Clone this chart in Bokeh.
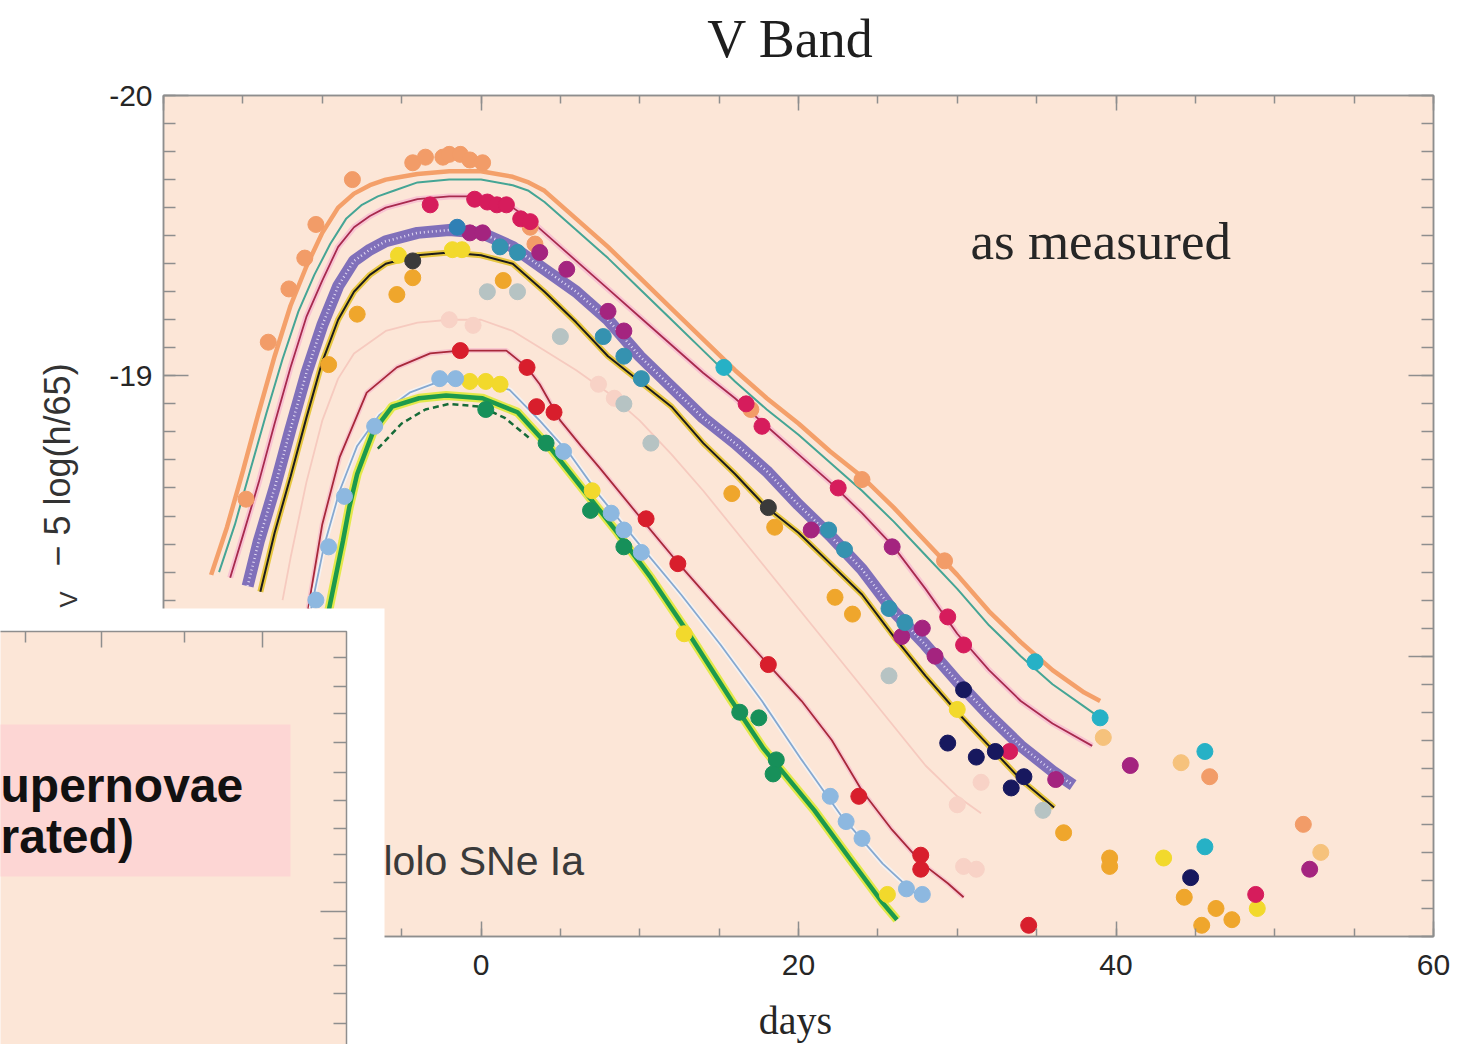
from bokeh.plotting import figure
from bokeh.models import (Range1d, LinearAxis, SingleIntervalTicker, Label, BoxAnnotation,
                          PrintfTickFormatter)
from bokeh.embed import file_html
from bokeh.resources import INLINE

# ---------------- fitted light curves: days from maximum, M_V - 5 log(h/65) ----------------
orange_days = [-17, -16, -15, -14, -13, -12, -11, -10, -9, -8, -7, -6, -5, -4, -2, 0, 2, 3, 4, 5, 6, 8,
               10, 12, 14, 16, 18, 20, 22, 24, 26, 28, 30, 32, 34, 36, 38, 39]
orange_mag = [-18.29, -18.46, -18.66, -18.87, -19.07, -19.25, -19.39, -19.51, -19.60, -19.65, -19.68,
              -19.70, -19.71, -19.72, -19.73, -19.73, -19.71, -19.69, -19.66, -19.61, -19.56, -19.46,
              -19.35, -19.24, -19.13, -19.02, -18.92, -18.83, -18.73, -18.64, -18.53, -18.41, -18.29,
              -18.16, -18.05, -17.95, -17.87, -17.84]

teal_days = [-16.5, -15.5, -14.5, -13.5, -12.5, -11.5, -10.5, -9.5, -8.5, -7.5, -6.5, -5.5, -4, -2, 0,
             2, 3, 4, 5, 6, 8, 10, 12, 14, 16, 18, 20, 22, 24, 26, 28, 30, 32, 34, 36, 38, 39]
teal_mag = [-18.30, -18.47, -18.67, -18.87, -19.06, -19.23, -19.36, -19.47, -19.56, -19.61, -19.64,
            -19.66, -19.69, -19.70, -19.70, -19.68, -19.66, -19.62, -19.57, -19.52, -19.42, -19.31,
            -19.20, -19.09, -18.98, -18.88, -18.79, -18.69, -18.59, -18.48, -18.36, -18.24, -18.11,
            -18.00, -17.90, -17.82, -17.78]

crimson_days = [-15.8, -15, -14, -13, -12, -11, -10, -9, -8, -7, -6, -4, -2, 0, 2, 3, 4, 5, 6, 8, 10,
                12, 14, 16, 18, 20, 22, 24, 26, 28, 30, 32, 34, 36, 38.5]
crimson_mag = [-18.28, -18.43, -18.62, -18.83, -19.03, -19.21, -19.34, -19.46, -19.53, -19.57, -19.60,
               -19.63, -19.64, -19.64, -19.60, -19.56, -19.51, -19.46, -19.41, -19.31, -19.21, -19.11,
               -19.01, -18.92, -18.82, -18.72, -18.62, -18.51, -18.39, -18.24, -18.08, -17.95, -17.84,
               -17.76, -17.68]

band_days = [-14.7, -14, -13, -12, -11, -10, -9, -8, -7, -6, -4, -2, 0, 2, 4, 6, 8, 10, 12, 14, 16, 18,
             20, 22, 24, 26, 28, 30, 32, 34, 36, 37.3]
band_mag = [-18.25, -18.41, -18.60, -18.81, -19.01, -19.18, -19.32, -19.41, -19.45, -19.48, -19.51,
            -19.52, -19.51, -19.46, -19.38, -19.30, -19.20, -19.07, -18.96, -18.85, -18.76, -18.66,
            -18.54, -18.43, -18.31, -18.16, -18.04, -17.91, -17.79, -17.68, -17.59, -17.54]

black_days = [-13.9, -13, -12, -11, -10, -9, -8, -7, -6, -4, -2, 0, 2, 4, 6, 8, 10, 12, 14, 16, 18, 20,
              22, 24, 26, 28, 30, 32, 34, 36.1]
black_mag = [-18.23, -18.44, -18.64, -18.85, -19.05, -19.20, -19.30, -19.36, -19.40, -19.43, -19.44,
             -19.43, -19.40, -19.30, -19.19, -19.07, -18.98, -18.89, -18.76, -18.65, -18.53, -18.44,
             -18.33, -18.22, -18.07, -17.93, -17.80, -17.68, -17.56, -17.46]

pale_days = [-12.5, -12, -11, -10, -9, -8, -6, -4, -2, 0, 2, 4, 6, 8, 10, 12, 14, 16, 18, 20, 22, 24,
             26, 28, 30, 31.5]
pale_mag = [-18.20, -18.35, -18.62, -18.84, -18.99, -19.08, -19.16, -19.19, -19.20, -19.20, -19.16,
            -19.09, -19.02, -18.94, -18.84, -18.72, -18.59, -18.45, -18.31, -18.17, -18.03, -17.89,
            -17.75, -17.61, -17.50, -17.44]

red_days = [-11.2, -10.8, -10.0, -8.9, -7.2, -5.3, -3.2, -1.3, 0.6, 1.6, 2.9, 3.7, 5.0, 6.3, 7.5, 10.1,
            12.6, 15.1, 18.1, 20.2, 22.1, 24.0, 25.9, 27.8, 29.4, 30.4]
red_mag = [-18.05, -18.20, -18.47, -18.71, -18.94, -19.03, -19.08, -19.09, -19.09, -19.09, -19.03,
           -18.97, -18.84, -18.75, -18.67, -18.49, -18.32, -18.16, -17.97, -17.84, -17.70, -17.52,
           -17.38, -17.26, -17.19, -17.14]

lblue_days = [-10.7, -9.9, -8.9, -7.8, -6.4, -4.5, -2.6, -0.1, 1.8, 3.7, 5.6, 7.5, 10.1, 12.6, 15.1,
              17.7, 20.2, 22.7, 25.3, 27.2, 28.1]
lblue_mag = [-18.17, -18.39, -18.59, -18.75, -18.86, -18.94, -18.98, -18.98, -18.95, -18.84, -18.72,
             -18.57, -18.39, -18.22, -18.04, -17.84, -17.63, -17.43, -17.26, -17.16, -17.13]

green_days = [-10.0, -9.6, -8.7, -8.3, -7.8, -6.8, -5.6, -3.9, -2.2, 0.1, 2.3, 4.4, 6.5, 8.6, 10.7,
              13.2, 15.8, 17.8, 21.0, 23.2, 25.3, 26.2]
green_mag = [-17.98, -18.16, -18.41, -18.53, -18.65, -18.80, -18.89, -18.92, -18.93, -18.92, -18.87,
             -18.74, -18.59, -18.44, -18.28, -18.07, -17.84, -17.67, -17.45, -17.28, -17.12, -17.06]

dgreen_days = [-6.5, -5.0, -3.5, -2.0, 0.0, 1.5, 3.0]
dgreen_mag = [-18.74, -18.83, -18.88, -18.90, -18.89, -18.85, -18.78]

# ---------------- photometry points ----------------
salmon_pt_days = [-14.8, -13.4, -12.1, -11.1, -10.4, -8.1, -4.3, -3.5, -2.4, -2.0, -1.3, -0.7, 0.1,
                  3.1, 3.4, 17.0, 24.0, 29.2, 45.9, 51.8]
salmon_pt_mag = [-18.56, -19.12, -19.31, -19.42, -19.54, -19.70, -19.76, -19.78, -19.78, -19.79,
                 -19.79, -19.77, -19.76, -19.53, -19.47, -18.88, -18.63, -18.34, -17.57, -17.40]

crimson_pt_days = [-3.2, -0.4, 0.4, 1.0, 1.6, 2.5, 3.1, 16.7, 17.7, 22.5, 29.4, 30.4, 33.3, 48.8]
crimson_pt_mag = [-19.61, -19.63, -19.62, -19.61, -19.61, -19.56, -19.55, -18.90, -18.82, -18.60,
                  -18.14, -18.04, -17.66, -17.15]

magenta_pt_days = [-0.7, 0.1, 3.7, 5.4, 8.0, 9.0, 20.8, 25.9, 26.5, 27.8, 28.6, 36.2, 40.9, 52.2]
magenta_pt_mag = [-19.51, -19.51, -19.44, -19.38, -19.23, -19.16, -18.45, -18.39, -18.07, -18.10,
                  -18.00, -17.56, -17.61, -17.24]

steel_pt_days = [-1.5]
steel_pt_mag = [-19.53]

tealblue_pt_days = [1.2, 2.3, 7.7, 9.0, 10.1, 21.9, 22.9, 25.7, 26.7]
tealblue_pt_mag = [-19.46, -19.44, -19.14, -19.07, -18.99, -18.45, -18.38, -18.17, -18.12]

cyan_pt_days = [15.3, 34.9, 39.0, 45.6, 45.6]
cyan_pt_mag = [-19.03, -17.98, -17.78, -17.66, -17.32]

gold_pt_days = [-9.6, -7.8, -5.3, -4.3, 1.4, 15.8, 18.5, 22.3, 23.4, 36.7, 39.6, 39.6, 44.3, 45.4,
                46.3, 47.3]
gold_pt_mag = [-19.04, -19.22, -19.29, -19.35, -19.34, -18.58, -18.46, -18.21, -18.15, -17.37, -17.28,
               -17.25, -17.14, -17.04, -17.10, -17.06]

yellow_pt_days = [-5.2, -1.8, -1.2, -0.7, 0.3, 1.2, 7.0, 12.8, 25.6, 30.0, 43.0, 48.9]
yellow_pt_mag = [-19.43, -19.45, -19.45, -18.98, -18.98, -18.97, -18.59, -18.08, -17.15, -17.81,
                 -17.28, -17.10]

grey_pt_days = [0.4, 2.3, 5.0, 9.0, 10.7, 25.7, 35.4]
grey_pt_mag = [-19.30, -19.30, -19.14, -18.90, -18.76, -17.93, -17.45]

pale_pt_days = [-2.0, -0.5, 7.4, 8.4, 30.0, 31.5, 30.4, 31.2]
pale_pt_mag = [-19.20, -19.18, -18.97, -18.92, -17.47, -17.55, -17.25, -17.24]

red_pt_days = [-1.3, 2.9, 3.5, 4.6, 10.4, 12.4, 18.1, 23.8, 27.7, 27.7, 34.5]
red_pt_mag = [-19.09, -19.03, -18.89, -18.87, -18.49, -18.33, -17.97, -17.50, -17.29, -17.24, -17.04]

lblue_pt_days = [-10.4, -9.6, -8.6, -6.7, -2.6, -1.6, 5.2, 8.2, 9.0, 10.1, 22.0, 23.0, 24.0, 26.8, 27.8]
lblue_pt_mag = [-18.20, -18.39, -18.57, -18.82, -18.99, -18.99, -18.73, -18.51, -18.45, -18.37, -17.50,
                -17.41, -17.35, -17.17, -17.15]

dgreen_pt_days = [0.3, 4.1, 6.9, 9.0, 16.3, 17.5, 18.6, 18.4]
dgreen_pt_mag = [-18.88, -18.76, -18.52, -18.39, -17.80, -17.78, -17.63, -17.58]

navy_pt_days = [29.4, 30.4, 31.2, 32.4, 33.4, 34.2, 44.7]
navy_pt_mag = [-17.69, -17.88, -17.64, -17.66, -17.53, -17.57, -17.21]

lorange_pt_days = [39.2, 44.1, 52.9]
lorange_pt_mag = [-17.71, -17.62, -17.30]

dark_pt_days = [-4.3, 18.1]
dark_pt_mag = [-19.41, -18.53]

# axis extent and ticks
x_lo, x_hi, x_step = -20, 60, 20
y_bright, y_faint, y_step = -20, -17, 1

# ---------------- page geometry ----------------
PEACH = "#FCE6D7"
AXIS_GREY = "#8e8e8e"
TEXT = "#262626"
SANS = "Liberation Sans"
SERIF = "Liberation Serif"

W, H = 1460, 1044
L, T, R, B = 163, 95, 1433, 936          # edges of the light-curve panel on the page

# the plotting frame fills the whole page; the panel sits inside it
sx = (R - L) / (x_hi - x_lo)
sy = (B - T) / (y_faint - y_bright)
x_range = Range1d(x_lo - L / sx, x_hi + (W - R) / sx)
y_range = Range1d(y_faint + (H - B) / sy, y_bright - T / sy)

p = figure(width=W, height=H, output_backend="svg", toolbar_location=None,
           x_range=x_range, y_range=y_range, x_axis_type=None, y_axis_type=None,
           min_border_left=0, min_border_right=0, min_border_top=0, min_border_bottom=0,
           background_fill_color="white", border_fill_color="white", outline_line_color=None)

# panel background
p.add_layout(BoxAnnotation(left=x_lo, right=x_hi, top=y_bright, bottom=y_faint, level="underlay",
                           fill_color=PEACH, fill_alpha=1.0, line_color=AXIS_GREY, line_alpha=1.0,
                           line_width=1.5))


def axis(step, minor, major_in, minor_in, loc, bounds, labels, standoff=0):
    ax = LinearAxis(ticker=SingleIntervalTicker(interval=step, num_minor_ticks=minor),
                    fixed_location=loc, bounds=bounds,
                    formatter=PrintfTickFormatter(format="%d"),
                    axis_line_color=AXIS_GREY, axis_line_width=1.5,
                    major_tick_line_color=AXIS_GREY, major_tick_line_width=1.5,
                    minor_tick_line_color=AXIS_GREY, minor_tick_line_width=1.5,
                    major_tick_in=major_in, major_tick_out=0,
                    minor_tick_in=minor_in, minor_tick_out=0,
                    major_label_text_font=SANS, major_label_text_font_size="30px",
                    major_label_standoff=standoff)
    ax.major_label_text_color = TEXT if labels else None
    return ax


p.add_layout(axis(x_step, 4, 15, 8, y_faint, (x_lo, x_hi), True, 18), "below")
p.add_layout(axis(x_step, 4, 15, 8, y_bright, (x_lo, x_hi), False), "above")
p.add_layout(axis(y_step, 10, 25, 12, x_lo, (y_bright, y_faint), True, 11), "left")
p.add_layout(axis(y_step, 10, 25, 12, x_hi, (y_bright, y_faint), False), "right")

# ---------------- curves ----------------
p.line(pale_days, pale_mag, line_color="#F6CABF", line_width=1.8)
p.line(band_days, band_mag, line_color="#8070BA", line_width=12)
p.line(band_days, band_mag, line_color="#E4DDF4", line_width=2.5, line_dash="1 3")
p.line(black_days, black_mag, line_color="#E6C640", line_width=6)
p.line(black_days, black_mag, line_color="#1c1c1c", line_width=2)
p.line(crimson_days, crimson_mag, line_color="#F8C4D2", line_width=6)
p.line(crimson_days, crimson_mag, line_color="#A82A4E", line_width=1.8)
p.line(teal_days, teal_mag, line_color="#45A595", line_width=2)
p.line(orange_days, orange_mag, line_color="#F4A06A", line_width=4.5)
p.line(red_days, red_mag, line_color="#F8C8CF", line_width=5)
p.line(red_days, red_mag, line_color="#A8283A", line_width=1.8)
p.line(lblue_days, lblue_mag, line_color="#F4F2F2", line_width=5)
p.line(lblue_days, lblue_mag, line_color="#86A8D0", line_width=1.8)
p.line(green_days, green_mag, line_color="#E2E84A", line_width=9)
p.line(green_days, green_mag, line_color="#1C9A4C", line_width=4.5)
p.line(dgreen_days, dgreen_mag, line_color="#166B38", line_width=2.5, line_dash="6 4")

# ---------------- points ----------------
points = [
    (pale_pt_days, pale_pt_mag, "#F8D2C6"),
    (grey_pt_days, grey_pt_mag, "#B6C3C3"),
    (salmon_pt_days, salmon_pt_mag, "#F29C68"),
    (gold_pt_days, gold_pt_mag, "#EFA62C"),
    (yellow_pt_days, yellow_pt_mag, "#F2D92C"),
    (crimson_pt_days, crimson_pt_mag, "#D61C5C"),
    (magenta_pt_days, magenta_pt_mag, "#A4247F"),
    (steel_pt_days, steel_pt_mag, "#2F80B5"),
    (tealblue_pt_days, tealblue_pt_mag, "#3592B0"),
    (cyan_pt_days, cyan_pt_mag, "#26B1C6"),
    (red_pt_days, red_pt_mag, "#D81E2C"),
    (lblue_pt_days, lblue_pt_mag, "#8DB8E0"),
    (dgreen_pt_days, dgreen_pt_mag, "#17905A"),
    (navy_pt_days, navy_pt_mag, "#17185E"),
    (lorange_pt_days, lorange_pt_mag, "#F6C27C"),
    (dark_pt_days, dark_pt_mag, "#3a3a3a"),
]
for xs, ys, c in points:
    p.scatter(xs, ys, marker="circle", size=16, fill_color=c, line_color=c)


# ---------------- text (screen units: page x, and page height minus page y) ----------------
def label(x, y, text, size, font=SANS, align="left", baseline="middle", angle=0, style="normal",
          color=TEXT):
    p.add_layout(Label(x=x, y=H - y, x_units="screen", y_units="screen", text=text,
                       text_font=font, text_font_size=size, text_align=align,
                       text_baseline=baseline, angle=angle, angle_units="deg",
                       text_font_style=style, text_color=color))


label(790, 38, "V Band", "54px", font=SERIF, align="center", color="#1e1e1e")
label(970, 240, "as measured", "53px", font=SERIF)
label(795, 1020, "days", "40px", font=SERIF, align="center")
label(383, 860, "lolo SNe Ia", "41px", color="#3a3a3a")
label(57, 566, "\u2212 5 log(h/65)", "36px", angle=90, color="#333333")
label(68, 607, "V", "24px", angle=90, color="#333333")


# ---------------- overlapping panel in the lower left ----------------
def box(left, right, top, bottom, fill, line=None, lw=1.5):
    p.add_layout(BoxAnnotation(left=left, right=right, top=H - top, bottom=H - bottom,
                               left_units="screen", right_units="screen",
                               top_units="screen", bottom_units="screen",
                               fill_color=fill, fill_alpha=1.0,
                               line_color=line, line_alpha=1.0, line_width=lw))


box(-10, 384, 608, 1060, "white")
box(-10, 346, 631, 1060, PEACH, line=AXIS_GREY)
for tx, tl in zip([25, 101, 184, 262], [11, 16, 11, 16]):
    box(tx - 0.75, tx + 0.75, 631, 631 + tl, AXIS_GREY)
for ty in [657, 686, 713, 742, 772, 800, 828, 854, 882, 911, 938, 965, 993, 1023]:
    tl = 26 if ty == 911 else 13
    box(346 - tl, 346, ty - 0.75, ty + 0.75, AXIS_GREY)
box(-10, 290, 724, 876, "#FDD6D4")
label(0, 785, "upernovae", "48px", baseline="alphabetic", style="bold", color="#111111")
label(0, 836, "rated)", "48px", baseline="alphabetic", style="bold", color="#111111")

open("out.html", "w").write(file_html(p, INLINE))
